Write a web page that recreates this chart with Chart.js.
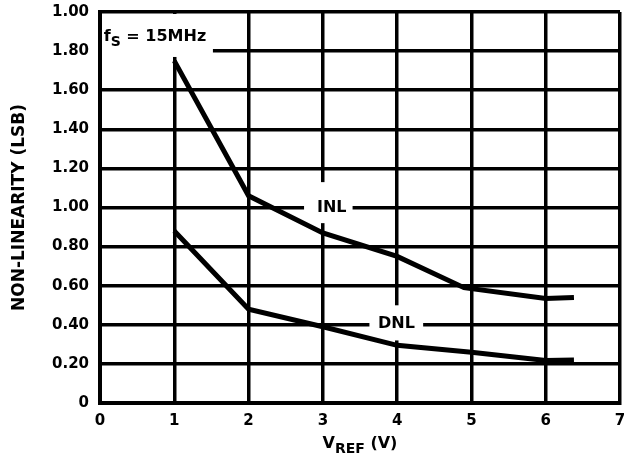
<!DOCTYPE html>
<html>
<head>
<meta charset="utf-8">
<script src="https://cdn.jsdelivr.net/npm/chart.js@4"></script>
<style>
  body { margin: 0; background: #fff; }
</style>
</head>
<body>
<canvas id="chartNonLin" width="635" height="461"></canvas>
<script>
// values
const inlVref = [1, 2, 3, 4, 4.9, 6, 6.38];
const inlValues = [1.75, 1.06, 0.87, 0.75, 0.59, 0.535, 0.54];
const dnlVref = [1, 2, 3, 4, 5, 6, 6.38];
const dnlValues = [0.88, 0.48, 0.39, 0.295, 0.26, 0.218, 0.22];

const xTickLabels = ["0", "1", "2", "3", "4", "5", "6", "7"];
// the top label really says 1.00 in the original sheet
const yTickLabels = ["0", "0.20", "0.40", "0.60", "0.80", "1.00", "1.20", "1.40", "1.60", "1.80", "1.00"];

const FONT = '"DejaVu Sans", sans-serif';

const toPoints = (xs, ys) => xs.map((x, i) => ({ x: x, y: ys[i] }));

// text pieces: [text, isSubscript]
function drawParts(c, parts, x, y, size) {
  let cx = x;
  parts.forEach(p => {
    const sub = p[1];
    c.font = "bold " + (sub ? size - 2 : size) + "px " + FONT;
    c.fillText(p[0], cx, sub ? y + size * 0.35 : y);
    cx += c.measureText(p[0]).width;
  });
  return cx;
}
function partsWidth(c, parts, size) {
  let w = 0;
  parts.forEach(p => {
    c.font = "bold " + (p[1] ? size - 2 : size) + "px " + FONT;
    w += c.measureText(p[0]).width;
  });
  return w;
}

// labels sitting on white patches over the grid (data units)
const curveLabels = [
  { parts: [["INL", false]], size: 16, x: 3.12, y: 1.0, box: [2.72, 3.4, 1.14, 0.92] },
  { parts: [["DNL", false]], size: 16, x: 3.99, y: 0.405, box: [3.6, 4.35, 0.51, 0.32] },
  { parts: [["f", false], ["S", true], [" = 15MHz", false]], size: 16, x: 0.05, y: 1.875, box: [0, 1.52, 2.0, 1.77], left: true },
];

const labelPlugin = {
  id: "labels",
  beforeDatasetsDraw(chart) {
    const c = chart.ctx;
    const xs = chart.scales.x, ys = chart.scales.y;
    c.save();
    curveLabels.forEach(l => {
      const x0 = xs.getPixelForValue(l.box[0]), x1 = xs.getPixelForValue(l.box[1]);
      const y0 = ys.getPixelForValue(l.box[2]), y1 = ys.getPixelForValue(l.box[3]);
      c.fillStyle = "#fff";
      c.fillRect(x0 + 2, y0 + 2, x1 - x0 - 2, y1 - y0 - 2);
      c.fillStyle = "#000";
      c.textBaseline = "middle";
      c.textAlign = "left";
      const w = partsWidth(c, l.parts, l.size);
      const px = xs.getPixelForValue(l.x), py = ys.getPixelForValue(l.y);
      drawParts(c, l.parts, l.left ? px : px - w / 2, py, l.size);
    });
    c.restore();
  },
  afterDraw(chart) {
    const c = chart.ctx;
    const a = chart.chartArea;
    c.save();
    c.fillStyle = "#000";
    c.textBaseline = "middle";
    c.textAlign = "left";
    // x title
    const xt = [["V", false], ["REF", true], [" (V)", false]];
    const w = partsWidth(c, xt, 16);
    drawParts(c, xt, (a.left + a.right) / 2 - w / 2, 444, 16);
    // y title
    c.translate(20, (a.top + a.bottom) / 2);
    c.rotate(-Math.PI / 2);
    c.textAlign = "center";
    c.font = "bold 17px " + FONT;
    c.fillText("NON-LINEARITY (LSB)", 0, 0);
    c.restore();
  },
};

const ctx = document.getElementById("chartNonLin").getContext("2d");

const chartNonLin = new Chart(ctx, {
  type: "line",
  data: {
    datasets: [
      {
        label: "INL",
        data: toPoints(inlVref, inlValues),
        borderColor: "#000",
        borderWidth: 5,
        pointRadius: 0,
        tension: 0,
        fill: false,
      },
      {
        label: "DNL",
        data: toPoints(dnlVref, dnlValues),
        borderColor: "#000",
        borderWidth: 5,
        pointRadius: 0,
        tension: 0,
        fill: false,
      },
    ],
  },
  options: {
    responsive: false,
    animation: false,
    layout: { padding: { left: 0, top: 0, right: 15, bottom: 0 } },
    plugins: {
      legend: { display: false },
      tooltip: { enabled: false },
    },
    scales: {
      x: {
        type: "linear",
        min: 0,
        max: 7,
        ticks: {
          stepSize: 1,
          padding: 9,
          color: "#000",
          font: { family: FONT, size: 15, weight: "bold" },
          callback: (v, i) => xTickLabels[i],
        },
        grid: { color: "#000", lineWidth: 3.5, drawTicks: false },
        border: { display: true, color: "#000", width: 4 },
        afterFit: (scale) => { scale.height = 58; },
      },
      y: {
        min: 0,
        max: 2,
        ticks: {
          stepSize: 0.2,
          padding: 11,
          color: "#000",
          font: { family: FONT, size: 15, weight: "bold" },
          callback: (v, i) => yTickLabels[i],
        },
        grid: { color: "#000", lineWidth: 3.5, drawTicks: false },
        border: { display: true, color: "#000", width: 4 },
        afterFit: (scale) => {
          scale.width = 100;
          scale.paddingTop = 12;
          scale.paddingBottom = 0;
        },
      },
    },
  },
  plugins: [labelPlugin],
});
</script>
</body>
</html>
